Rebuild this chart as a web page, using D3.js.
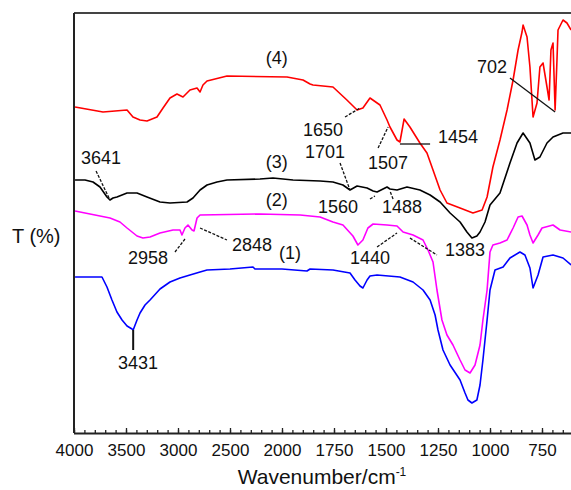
<!DOCTYPE html>
<html>
<head>
<meta charset="utf-8">
<script src="https://cdn.jsdelivr.net/npm/d3@7"></script>
<style>
html,body{margin:0;padding:0;background:#fff;}
svg{display:block;font-family:"Liberation Sans",Arial,sans-serif;}
</style>
</head>
<body>
<svg id="chart" width="571" height="490"></svg>
<script>
// ---- data (wavenumber cm^-1, transmittance, arbitrary offset units) ----
const wn1 = [3990,3731,3683,3635,3587,3538,3490,3442,3431,3394,3365,3317,3269,3173,3077,2981,2885,2788,2721,2500,2279,2260,2000,1880,1865,1755,1673,1649,1625,1611,1591,1577,1543,1433,1370,1322,1288,1264,1250,1226,1192,1144,1120,1106,1087,1063,1048,1034,1014,1000,976,937,904,856,832,808,793,769,745,697,649,610];
const t1  = [15.6,15.6,14.6,13.3,12.1,11.3,10.7,10.4,10.3,11.3,12.0,12.8,13.3,14.4,15.1,15.5,15.8,16.1,16.3,16.4,16.6,16.4,16.4,16.2,16.4,16.3,16.0,15.3,14.7,14.5,15.3,15.7,15.8,15.6,15.1,14.3,13.3,11.8,10.3,8.3,6.8,5.3,4.0,3.3,3.0,3.3,4.8,7.3,11.3,14.3,16.3,16.6,17.5,18.1,17.8,16.5,14.5,15.8,17.6,17.8,17.5,16.8];

const wn2 = [3990,3846,3654,3558,3490,3394,3337,3269,3173,3048,2981,2962,2933,2904,2865,2846,2817,2788,2212,1913,1817,1755,1707,1659,1635,1611,1587,1562,1495,1447,1418,1370,1322,1298,1274,1255,1231,1207,1178,1144,1120,1096,1072,1048,1034,1014,1000,986,952,918,889,865,846,822,808,793,769,750,697,663,610];
const t2  = [22.2,21.9,21.5,21.1,20.5,19.7,19.5,19.6,20.0,20.3,20.3,19.8,20.5,20.8,20.3,20.2,21.5,21.8,21.9,21.8,21.6,21.1,20.8,19.7,18.8,19.3,20.5,20.9,20.8,20.7,20.1,19.8,19.3,18.3,17.1,14.3,11.3,9.8,8.8,7.3,6.3,6.0,6.8,8.8,11.3,14.3,18.1,18.8,19.0,19.3,20.5,21.6,21.7,20.8,19.8,19.0,19.8,20.5,20.8,20.3,20.1];

const wn3 = [3990,3894,3817,3750,3683,3654,3625,3587,3490,3394,3298,3173,3077,2913,2856,2788,2721,2625,2529,2212,2087,1947,1817,1755,1707,1673,1639,1591,1562,1543,1495,1481,1447,1399,1337,1288,1240,1192,1144,1111,1087,1063,1048,1024,1000,952,904,870,841,808,784,760,726,697,649,610];
const t3  = [25.3,25.3,25.1,24.6,23.6,23.3,23.5,23.6,24.0,24.0,23.6,23.1,23.0,23.1,23.5,24.3,24.8,25.1,25.3,25.4,25.5,25.3,25.2,25.1,24.8,24.3,24.7,24.5,24.2,24.1,24.6,24.4,24.3,24.6,24.3,23.8,23.1,22.0,21.1,20.1,19.5,19.7,20.1,21.1,22.8,24.0,27.0,29.0,30.0,29.0,27.3,27.6,29.0,29.6,30.0,30.0];

const wn4 = [3990,3721,3490,3433,3365,3298,3202,3144,3077,3010,2952,2885,2817,2788,2760,2721,2567,2529,1976,1899,1865,1851,1755,1688,1639,1611,1577,1529,1495,1481,1447,1433,1413,1385,1337,1303,1274,1240,1207,1144,1082,1038,1014,986,952,918,889,865,846,841,822,808,793,774,760,745,726,716,707,697,687,678,673,649,630,610];
const t4  = [32.6,32.1,32.3,31.6,31.3,31.2,31.6,32.5,33.5,33.9,33.6,34.3,34.5,34.1,34.8,35.2,35.6,35.7,35.6,35.3,34.9,34.8,34.6,33.3,32.3,32.5,33.5,32.8,31.3,30.6,29.3,29.1,31.4,30.6,29.0,28.0,26.3,24.3,23.0,22.5,22.0,22.3,23.6,26.6,29.3,32.3,35.3,38.3,40.1,40.8,39.6,36.6,31.6,33.0,36.6,37.0,34.6,33.3,38.3,39.0,32.3,37.3,40.3,41.3,41.0,40.3];

const seriesColors = ["#0000ff","#ff00ff","#000000","#ff0000"];
const seriesNames = ["(1)","(2)","(3)","(4)"];

const majorTicks = [4000,3500,3000,2500,2000,1750,1500,1250,1000,750];

const annoLabels = ["3641","1650","1701","1507","1454","702","1560","1488","2958","2848","1440","1383","3431"];

// ---- layout ----
const svg = d3.select("#chart");
const padL = 74, padT = 13, padB = 433;
const x = d3.scaleLinear().domain([4000, 2000, 400]).range([padL, 282, 614.8]);
const y = d3.scaleLinear().domain([0, 42]).range([padB, padT]);

svg.append("defs").append("clipPath").attr("id","plotclip")
  .append("rect").attr("x", padL).attr("y", padT).attr("width", 600).attr("height", padB - padT);

// frame
svg.append("line").attr("x1", padL).attr("x2", 620).attr("y1", padT).attr("y2", padT)
  .attr("stroke", "#444").attr("stroke-width", 2);
svg.append("line").attr("x1", padL).attr("x2", padL).attr("y1", padT).attr("y2", padB)
  .attr("stroke", "#222").attr("stroke-width", 2);

// x axis
const minorTicks = d3.range(4000, 2000, -100).concat(d3.range(2000, 399, -50));
const gx = svg.append("g").attr("transform", `translate(0,${padB})`);
gx.call(d3.axisBottom(x).tickValues(minorTicks).tickSize(-3).tickFormat(""));
gx.call(g => g.select(".domain").remove());
const gx2 = svg.append("g").attr("transform", `translate(0,${padB})`);
gx2.call(d3.axisBottom(x).tickValues(majorTicks).tickSizeInner(-5).tickSizeOuter(0).tickPadding(11).tickFormat(d3.format("d")));
gx2.select(".domain").attr("stroke", "#222").attr("stroke-width", 2).attr("d", `M${padL},0.5H620`);
gx2.selectAll("text").attr("font-size", 17).attr("fill", "#111").attr("font-family", "Liberation Sans, Arial, sans-serif");
svg.selectAll(".tick line").attr("stroke", "#222").attr("stroke-width", 1.3);

// axis titles
const xt = svg.append("text").attr("x", 322).attr("y", 484).attr("text-anchor", "middle")
  .attr("font-size", 21).attr("fill", "#111");
xt.append("tspan").text("Wavenumber/cm");
xt.append("tspan").attr("dy", -8).attr("font-size", 12).text("-1");
svg.append("text").attr("x", 12).attr("y", 243).attr("font-size", 20).attr("fill", "#111").text("T (%)");

// curves
const line = d3.line().x(d => x(d[0])).y(d => y(d[1]));
const allW = [wn1, wn2, wn3, wn4], allT = [t1, t2, t3, t4];
const plot = svg.append("g").attr("clip-path", "url(#plotclip)");
allW.forEach((w, i) => {
  plot.append("path").datum(w.map((v, j) => [v, allT[i][j]]))
    .attr("d", line).attr("fill", "none")
    .attr("stroke", seriesColors[i]).attr("stroke-width", 1.6).attr("stroke-linejoin", "round");
});

// series labels: wavenumber, T
const nameW = [1962, 2050, 2050, 2050];
const nameT = [18.0, 23.3, 27.1, 37.5];
seriesNames.forEach((n, i) => {
  svg.append("text").attr("x", x(nameW[i])).attr("y", y(nameT[i])).attr("text-anchor", "middle")
    .attr("dy", "0.35em").attr("font-size", 18).attr("fill", "#111").text(n);
});

// annotation labels positions (wavenumber, T) and leader lines
const annoW = [3740, 1803, 1793, 1490, 1154, 990, 1731, 1423, 3288, 2288, 1577, 1120, 3385];
const annoT = [27.5, 30.3, 28.1, 27.0, 29.6, 36.6, 22.6, 22.6, 17.5, 18.8, 17.5, 18.3, 7.0];
annoLabels.forEach((s, i) => {
  svg.append("text").attr("x", x(annoW[i])).attr("y", y(annoT[i])).attr("text-anchor", "middle")
    .attr("dy", "0.36em").attr("font-size", 18).attr("fill", "#111").text(s);
});
const leadFromW = [3788, 1697, 1721, 1538, 1433, 904, 1577, 1466, 3029, 2788, 1543, 1385, 3431];
const leadFromT = [26.2, 31.6, 27.0, 28.5, 28.9, 35.5, 23.4, 23.4, 18.1, 20.5, 18.6, 19.5, 10.3];
const leadToW   = [3654, 1625, 1673, 1490, 1288, 687, 1553, 1481, 2933, 2529, 1447, 1255, 3431];
const leadToT   = [23.3, 32.5, 24.3, 30.6, 28.9, 32.1, 23.7, 24.2, 19.4, 19.3, 20.0, 17.8, 8.3];
leadFromW.forEach((w, i) => {
  svg.append("line")
    .attr("x1", x(w)).attr("y1", y(leadFromT[i]))
    .attr("x2", x(leadToW[i])).attr("y2", y(leadToT[i]))
    .attr("stroke", "#111").attr("stroke-width", i === 12 ? 2 : 1.3)
    .attr("stroke-dasharray", (i === 4 || i === 12 || i === 5) ? null : "3,1.5");
});
</script>
</body>
</html>
